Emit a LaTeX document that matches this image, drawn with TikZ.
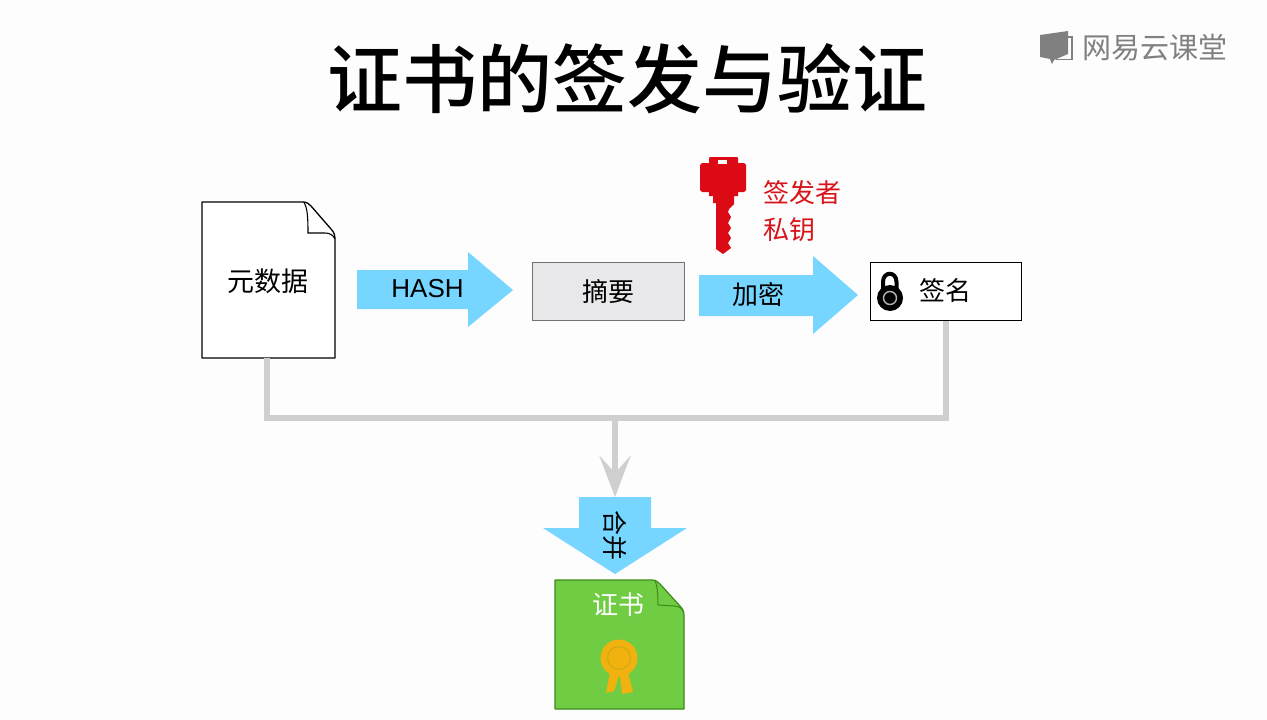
\documentclass[tikz,border=0pt]{standalone}
\usepackage{fontspec}
\setmainfont{Noto Sans CJK SC}
\newfontfamily\titlef{Noto Sans CJK SC Medium}
\newfontfamily\latinf{Liberation Sans}
\usetikzlibrary{arrows.meta}
\definecolor{bgc}{HTML}{FDFDFD}
\definecolor{blueA}{HTML}{76D6FF}
\definecolor{greyL}{HTML}{CFCFCF}
\definecolor{redK}{HTML}{DC0A14}
\definecolor{redT}{HTML}{D8131B}
\definecolor{greenF}{HTML}{70CC42}
\definecolor{greenD}{HTML}{3C8B1A}
\definecolor{gold}{HTML}{F1B10E}
\definecolor{boxg}{HTML}{E8E7EA}
\definecolor{logog}{HTML}{808080}
\newcommand{\fs}[1]{\fontsize{#1}{#1}\selectfont}
\tikzset{
  lbl/.style={inner sep=0pt,font=\fs{26}},
  blockarrow/.style={fill=blueA,draw=none},
  pagebox/.style={inner sep=0pt,minimum width=#1,anchor=north west},
  wire/.style={draw=greyL,line width=6pt,line join=miter},
  tipwire/.style={wire,-{Stealth[length=41pt,width=31pt,inset=17pt]}},
  fieldbox/.style={inner sep=0pt,anchor=north west,minimum width=151pt,minimum height=58pt},
}
\begin{document}
\begin{tikzpicture}[x=1pt,y=-1pt]
\useasboundingbox (0,0) rectangle (1267,720);
\fill[bgc] (0,0) rectangle (1267,720);

% title and logo
\node[inner sep=0pt,font=\titlef\fs{75}] (title) at (627,79) {证书的签发与验证};
\node[inner sep=0pt,font=\fs{29},text=logog] (logo) at (1155,48) {网易云课堂};
\fill[logog] (1040,35) -- (1068,31) -- (1068,54) -- (1054,60) -- (1052,64) -- (1050,59) -- (1040,57) -- cycle;
\draw[logog,line width=1.2pt] (1068,37) -- (1072,37) -- (1072,59.5) -- (1056,59.5);

% metadata page
\node[pagebox=133pt,minimum height=156pt] (doc) at (202,202) {};
\draw[black,line width=1.3pt,fill=white,line join=round] (202,202) -- (303,202) .. controls (307,202) and (309,204) .. (311,206) -- (331,229) .. controls (334,232) and (335,235) .. (335,240) -- (335,358) -- (202,358) -- cycle;
\draw[black,line width=1.1pt] (304,202) .. controls (307,208) and (308,214) .. (308,233) -- (325,233) .. controls (330,233) and (333,235) .. (335,239);
\node[inner sep=0pt,font=\fs{27}] (doct) at (268,281) {元数据};

% HASH arrow
\fill[blockarrow] (357,270) -- (468,270) -- (468,252) -- (513,290) -- (468,327) -- (468,309) -- (357,309) -- cycle;
\node[inner sep=0pt,font=\latinf\fs{26}] (hash) at (427.5,289) {HASH};

% digest
\node[draw=black!55,line width=1.1pt,fill=boxg,inner sep=0pt,anchor=north west,minimum width=151.5pt,minimum height=58pt,font=\fs{26}] (digest) at (532,262) {摘要};

% encrypt arrow
\fill[blockarrow] (699,275) -- (813,275) -- (813,256) -- (858,295) -- (813,334) -- (813,316) -- (699,316) -- cycle;
\node[lbl] (enc) at (758,295) {加密};

% key
\fill[redK] (709,158) -- (710,157) -- (737,157) -- (738,158) -- (738,163) -- (744,163) -- (746,165) -- (746,190) -- (744,192) -- (738,192) -- (738,196) -- (734,196) -- (734,204)
  -- (729,209) -- (728,212) -- (731,217) -- (728,223) -- (731,228) -- (728,233) -- (731,238) -- (728,243) -- (731,248) -- (723,254) -- (716,249) -- (716,203) -- (713,203) -- (713,196) -- (709,196) -- (709,192) -- (702,192) -- (700,190) -- (700,165) -- (702,163) -- (709,163) -- cycle;
\fill[bgc] (718,160) rectangle (727,164);
\node[lbl,text=redT] (signer) at (802.5,192.5) {签发者};
\node[lbl,text=redT] (privk) at (789,229.5) {私钥};

% signature
\node[fieldbox,draw=black,line width=1.2pt,fill=white] (sig) at (869.5,262) {};
\node[lbl] (sigt) at (945,291) {签名};
\draw[black,line width=4pt] (883,292) -- (883,282) .. controls (883,271) and (896.5,271) .. (896.5,282) -- (896.5,292);
\fill[black] (890,298) circle (13);
\draw[black!30,line width=1.4pt] (890,298) circle (6.5);

% wires
\coordinate (docfoot) at ([xshift=-1.5pt]doc.south);
\coordinate (junction) at (docfoot |- 0,418);
\coordinate (sigj) at (sig.south |- 0,418);
\coordinate (midj) at (615,418);
\coordinate (mergetop) at (615,497);
\draw[wire] (docfoot) -- (junction) -- (sigj) -- (sig.south);
\draw[tipwire] (midj) -- (mergetop);

% merge arrow
\fill[blockarrow] (579,497) -- (651,497) -- (651,528) -- (687,528) -- (615,574) -- (543,528) -- (579,528) -- cycle;
\node[font=\fs{25},inner sep=0pt,rotate=-90] (merge) at (615,535) {合并};

% certificate
\node[pagebox=129pt,minimum height=129pt] (cert) at (555,580) {};
\draw[greenD,line width=1.2pt,fill=greenF,line join=round] (555,580) -- (652,580) .. controls (656,580) and (658,582) .. (660,584) -- (680,606) .. controls (683,609) and (684,612) .. (684,616) -- (684,709) -- (555,709) -- cycle;
\draw[greenD,line width=1pt] (655,580) .. controls (657,586) and (658,592) .. (658,605) -- (674,606) .. controls (679,606) and (682,608) .. (684,613);
\node[lbl,text=white] (certt) at (618,605) {证书};
\fill[gold] (610,672) -- (606,693) -- (614,691) -- (619,676) -- cycle;
\fill[gold] (620,676) -- (622,694) -- (633,692) -- (628,672) -- cycle;
\fill[gold] (619,658) circle (18.5);
\draw[black!8!gold!85!greenF,line width=1pt] (619,658) circle (11.5);
\end{tikzpicture}
\end{document}
